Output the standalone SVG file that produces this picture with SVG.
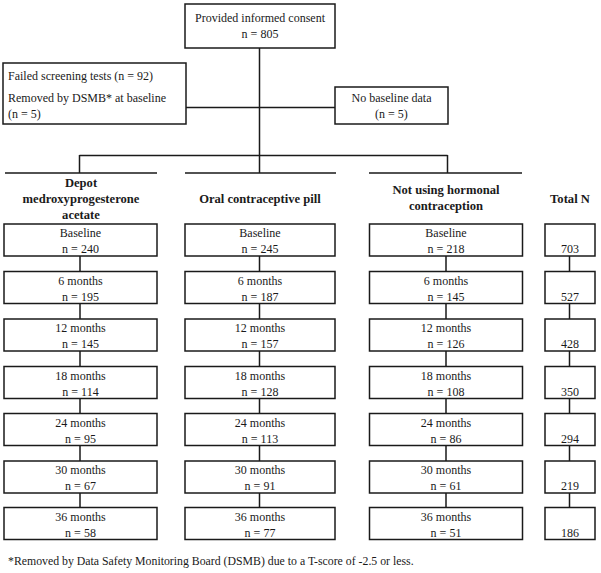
<svg xmlns="http://www.w3.org/2000/svg" width="601" height="573" viewBox="0 0 601 573">
<style>
.box{fill:#fff;stroke:#1a1a1a;stroke-width:1.5}
.ln{stroke:#1a1a1a;stroke-width:1.5;fill:none}
text{font-family:"Liberation Serif","Times New Roman",serif;font-size:12px;fill:#1a1a1a}
.c{text-anchor:middle}
.b{font-weight:bold;font-size:12.6px}
</style>
<rect width="601" height="573" fill="#fff"/>
<g id="connectors">
<path class="ln" d="M259.5 48V173M186 107.5H335M79.5 155.5H447.5M79.5 155V173M447.5 155V173M5 173H157M185 173H336M369 173H522"/>
<path class="ln" d="M80 256V271.5M80 303.5V319M80 351V366.5M80 398.5V413.5M80 445.5V461M80 493V507.5"/>
<path class="ln" d="M259.5 256V271.5M259.5 303.5V319M259.5 351V366.5M259.5 398.5V413.5M259.5 445.5V461M259.5 493V507.5"/>
<path class="ln" d="M446 256V271.5M446 303.5V319M446 351V366.5M446 398.5V413.5M446 445.5V461M446 493V507.5"/>
<path class="ln" d="M569.5 256V271.5M569.5 303.5V319M569.5 351V366.5M569.5 398.5V413.5M569.5 445.5V461M569.5 493V507.5"/>
</g>
<g id="consent"><rect class="box" x="185" y="4" width="150" height="44"/><text class="c" x="260" y="22">Provided informed consent</text><text class="c" x="260" y="38">n = 805</text></g>
<g id="excluded"><rect class="box" x="3" y="63" width="183" height="61"/><text x="8" y="80">Failed screening tests (n = 92)</text><text x="8" y="102">Removed by DSMB* at baseline</text><text x="8" y="118">(n = 5)</text></g>
<g id="nobaseline"><rect class="box" x="335" y="87" width="113" height="37"/><text class="c" x="391.5" y="102">No baseline data</text><text class="c" x="391.5" y="118">(n = 5)</text></g>
<g id="headers">
<text class="c b" x="81" y="187">Depot</text><text class="c b" x="81" y="203">medroxyprogesterone</text><text class="c b" x="81" y="219">acetate</text>
<text class="c b" x="260" y="203">Oral contraceptive pill</text>
<text class="c b" x="446" y="194">Not using hormonal</text><text class="c b" x="446" y="210">contraception</text>
<text class="c b" x="570" y="203">Total N</text>
</g>
<g id="dmpa">
<g id="dmpa0"><rect class="box" x="4" y="224" width="153" height="32"/><text class="c" x="80.5" y="237">Baseline</text><text class="c" x="80.5" y="253">n = 240</text></g>
<g id="dmpa6"><rect class="box" x="4" y="271.5" width="153" height="32"/><text class="c" x="80.5" y="284.5">6 months</text><text class="c" x="80.5" y="300.5">n = 195</text></g>
<g id="dmpa12"><rect class="box" x="4" y="319" width="153" height="32"/><text class="c" x="80.5" y="332">12 months</text><text class="c" x="80.5" y="348">n = 145</text></g>
<g id="dmpa18"><rect class="box" x="4" y="366.5" width="153" height="32"/><text class="c" x="80.5" y="379.5">18 months</text><text class="c" x="80.5" y="395.5">n = 114</text></g>
<g id="dmpa24"><rect class="box" x="4" y="413.5" width="153" height="32"/><text class="c" x="80.5" y="426.5">24 months</text><text class="c" x="80.5" y="442.5">n = 95</text></g>
<g id="dmpa30"><rect class="box" x="4" y="461" width="153" height="32"/><text class="c" x="80.5" y="474">30 months</text><text class="c" x="80.5" y="490">n = 67</text></g>
<g id="dmpa36"><rect class="box" x="4" y="507.5" width="153" height="32"/><text class="c" x="80.5" y="520.5">36 months</text><text class="c" x="80.5" y="536.5">n = 58</text></g>
</g>
<g id="ocp">
<g id="ocp0"><rect class="box" x="185" y="224" width="150" height="32"/><text class="c" x="260" y="237">Baseline</text><text class="c" x="260" y="253">n = 245</text></g>
<g id="ocp6"><rect class="box" x="185" y="271.5" width="150" height="32"/><text class="c" x="260" y="284.5">6 months</text><text class="c" x="260" y="300.5">n = 187</text></g>
<g id="ocp12"><rect class="box" x="185" y="319" width="150" height="32"/><text class="c" x="260" y="332">12 months</text><text class="c" x="260" y="348">n = 157</text></g>
<g id="ocp18"><rect class="box" x="185" y="366.5" width="150" height="32"/><text class="c" x="260" y="379.5">18 months</text><text class="c" x="260" y="395.5">n = 128</text></g>
<g id="ocp24"><rect class="box" x="185" y="413.5" width="150" height="32"/><text class="c" x="260" y="426.5">24 months</text><text class="c" x="260" y="442.5">n = 113</text></g>
<g id="ocp30"><rect class="box" x="185" y="461" width="150" height="32"/><text class="c" x="260" y="474">30 months</text><text class="c" x="260" y="490">n = 91</text></g>
<g id="ocp36"><rect class="box" x="185" y="507.5" width="150" height="32"/><text class="c" x="260" y="520.5">36 months</text><text class="c" x="260" y="536.5">n = 77</text></g>
</g>
<g id="none">
<g id="none0"><rect class="box" x="369.5" y="224" width="153" height="32"/><text class="c" x="446" y="237">Baseline</text><text class="c" x="446" y="253">n = 218</text></g>
<g id="none6"><rect class="box" x="369.5" y="271.5" width="153" height="32"/><text class="c" x="446" y="284.5">6 months</text><text class="c" x="446" y="300.5">n = 145</text></g>
<g id="none12"><rect class="box" x="369.5" y="319" width="153" height="32"/><text class="c" x="446" y="332">12 months</text><text class="c" x="446" y="348">n = 126</text></g>
<g id="none18"><rect class="box" x="369.5" y="366.5" width="153" height="32"/><text class="c" x="446" y="379.5">18 months</text><text class="c" x="446" y="395.5">n = 108</text></g>
<g id="none24"><rect class="box" x="369.5" y="413.5" width="153" height="32"/><text class="c" x="446" y="426.5">24 months</text><text class="c" x="446" y="442.5">n = 86</text></g>
<g id="none30"><rect class="box" x="369.5" y="461" width="153" height="32"/><text class="c" x="446" y="474">30 months</text><text class="c" x="446" y="490">n = 61</text></g>
<g id="none36"><rect class="box" x="369.5" y="507.5" width="153" height="32"/><text class="c" x="446" y="520.5">36 months</text><text class="c" x="446" y="536.5">n = 51</text></g>
</g>
<g id="total">
<g id="total0"><rect class="box" x="545" y="224" width="50" height="32"/><text class="c" x="570" y="253">703</text></g>
<g id="total6"><rect class="box" x="545" y="271.5" width="50" height="32"/><text class="c" x="570" y="300.5">527</text></g>
<g id="total12"><rect class="box" x="545" y="319" width="50" height="32"/><text class="c" x="570" y="348">428</text></g>
<g id="total18"><rect class="box" x="545" y="366.5" width="50" height="32"/><text class="c" x="570" y="395.5">350</text></g>
<g id="total24"><rect class="box" x="545" y="413.5" width="50" height="32"/><text class="c" x="570" y="442.5">294</text></g>
<g id="total30"><rect class="box" x="545" y="461" width="50" height="32"/><text class="c" x="570" y="490">219</text></g>
<g id="total36"><rect class="box" x="545" y="507.5" width="50" height="32"/><text class="c" x="570" y="536.5">186</text></g>
</g>
<text id="footnote" x="8" y="564.5" style="font-size:11.8px">*Removed by Data Safety Monitoring Board (DSMB) due to a T-score of -2.5 or less.</text>
</svg>
